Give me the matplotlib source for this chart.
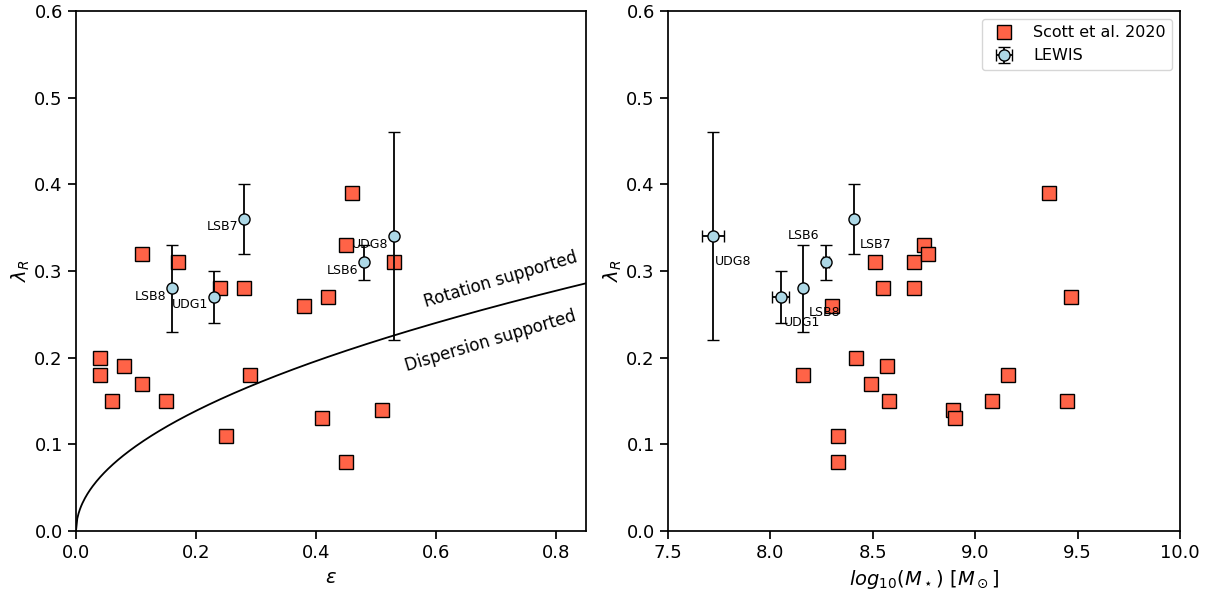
import numpy as np
import matplotlib
matplotlib.use("Agg")
import matplotlib.pyplot as plt

# ---- Scott et al. 2020 (left: ellipticity) ----
scott_eps = [0.04, 0.04, 0.06, 0.08, 0.11, 0.11, 0.15, 0.17, 0.24, 0.25,
             0.28, 0.29, 0.38, 0.41, 0.42, 0.45, 0.45, 0.46, 0.51, 0.53]
scott_lam_l = [0.20, 0.18, 0.15, 0.19, 0.17, 0.32, 0.15, 0.31, 0.28, 0.11,
               0.28, 0.18, 0.26, 0.13, 0.27, 0.33, 0.08, 0.39, 0.14, 0.31]

# ---- Scott et al. 2020 (right: stellar mass) ----
scott_mass = [8.16, 8.30, 8.33, 8.33, 8.42, 8.49, 8.51, 8.55, 8.57, 8.58, 8.70,
              8.70, 8.75, 8.77, 8.89, 8.90, 9.08, 9.16, 9.36, 9.45, 9.47]
scott_lam_r = [0.18, 0.26, 0.11, 0.08, 0.20, 0.17, 0.31, 0.28, 0.19, 0.15, 0.31,
               0.28, 0.33, 0.32, 0.14, 0.13, 0.15, 0.18, 0.39, 0.15, 0.27]

# ---- LEWIS ----
lewis_names = ["LSB8", "UDG1", "LSB7", "LSB6", "UDG8"]
lewis_eps = [0.16, 0.23, 0.28, 0.48, 0.53]
lewis_lam = [0.28, 0.27, 0.36, 0.31, 0.34]
lewis_lam_err = [0.05, 0.03, 0.04, 0.02, 0.12]
lewis_mass = [8.16, 8.05, 8.41, 8.27, 7.72]
lewis_mass_err = [0.0, 0.04, 0.0, 0.015, 0.055]

sq_color = "tomato"
circ_color = "lightblue"

fig = plt.figure(figsize=(12.12, 5.92), dpi=100)
axL = fig.add_axes([76/1212, 61/592, 510/1212, 520/592])
axR = fig.add_axes([668/1212, 61/592, 512/1212, 520/592])

for ax in (axL, axR):
    for s in ax.spines.values():
        s.set_linewidth(1.25)
    ax.tick_params(labelsize=13, width=1.25, length=6)
    ax.set_ylim(0, 0.6)
    ax.set_yticks(np.arange(0, 0.61, 0.1))
    ax.set_ylabel(r"$\lambda_R$", fontsize=14, labelpad=2)

# Left panel
e = np.linspace(0, 0.85, 400)
axL.plot(e, 0.31 * np.sqrt(e), color="black", lw=1.3, zorder=1)
axL.plot(scott_eps, scott_lam_l, ls="none", marker="s", ms=10, mfc=sq_color,
         mec="black", mew=1.0, zorder=3)
axL.errorbar(lewis_eps, lewis_lam, yerr=lewis_lam_err, fmt="o", ms=8,
             mfc=circ_color, mec="black", mew=1.0, ecolor="black", elinewidth=1.3,
             capsize=4, capthick=1.3, zorder=4)
for n, x, y in zip(lewis_names, lewis_eps, lewis_lam):
    axL.annotate(n, (x, y), xytext=(-6, -8), textcoords="offset pixels",
                 ha="right", va="center", fontsize=9, zorder=5)
axL.text(0.707, 0.29, "Rotation supported", rotation=16.6, ha="center",
         va="center", fontsize=12)
axL.text(0.691, 0.2196, "Dispersion supported", rotation=16.6, ha="center",
         va="center", fontsize=12)
axL.set_xlim(0, 0.85)
axL.set_xticks([0.0, 0.2, 0.4, 0.6, 0.8])
axL.set_xlabel(r"$\varepsilon$", fontsize=14, labelpad=4)

# Right panel
axR.plot(scott_mass, scott_lam_r, ls="none", marker="s", ms=10, mfc=sq_color,
         mec="black", mew=1.0, zorder=3, label="Scott et al. 2020")
axR.errorbar(lewis_mass, lewis_lam, xerr=lewis_mass_err, yerr=lewis_lam_err,
             fmt="o", ms=8, mfc=circ_color, mec="black", mew=1.0, ecolor="black",
             elinewidth=1.3, capsize=4, capthick=1.3, zorder=4, label="LEWIS")
offsets = {"UDG8": (2, -25, "left"), "UDG1": (3, -26, "left"),
           "LSB8": (6, -24, "left"), "LSB6": (-6, 27, "right"),
           "LSB7": (5, -25, "left")}
for n, x, y in zip(lewis_names, lewis_mass, lewis_lam):
    dx, dy, ha = offsets[n]
    axR.annotate(n, (x, y), xytext=(dx, dy), textcoords="offset pixels",
                 ha=ha, va="center", fontsize=9, zorder=5)
axR.set_xlim(7.5, 10.0)
axR.set_xticks([7.5, 8.0, 8.5, 9.0, 9.5, 10.0])
axR.set_xlabel(r"$log_{10}(M_\star)\ [M_\odot]$", fontsize=14, labelpad=4)
axR.legend(loc="upper right", fontsize=11.5, frameon=True, borderaxespad=0.5)

fig.savefig("out.png", dpi=100)
